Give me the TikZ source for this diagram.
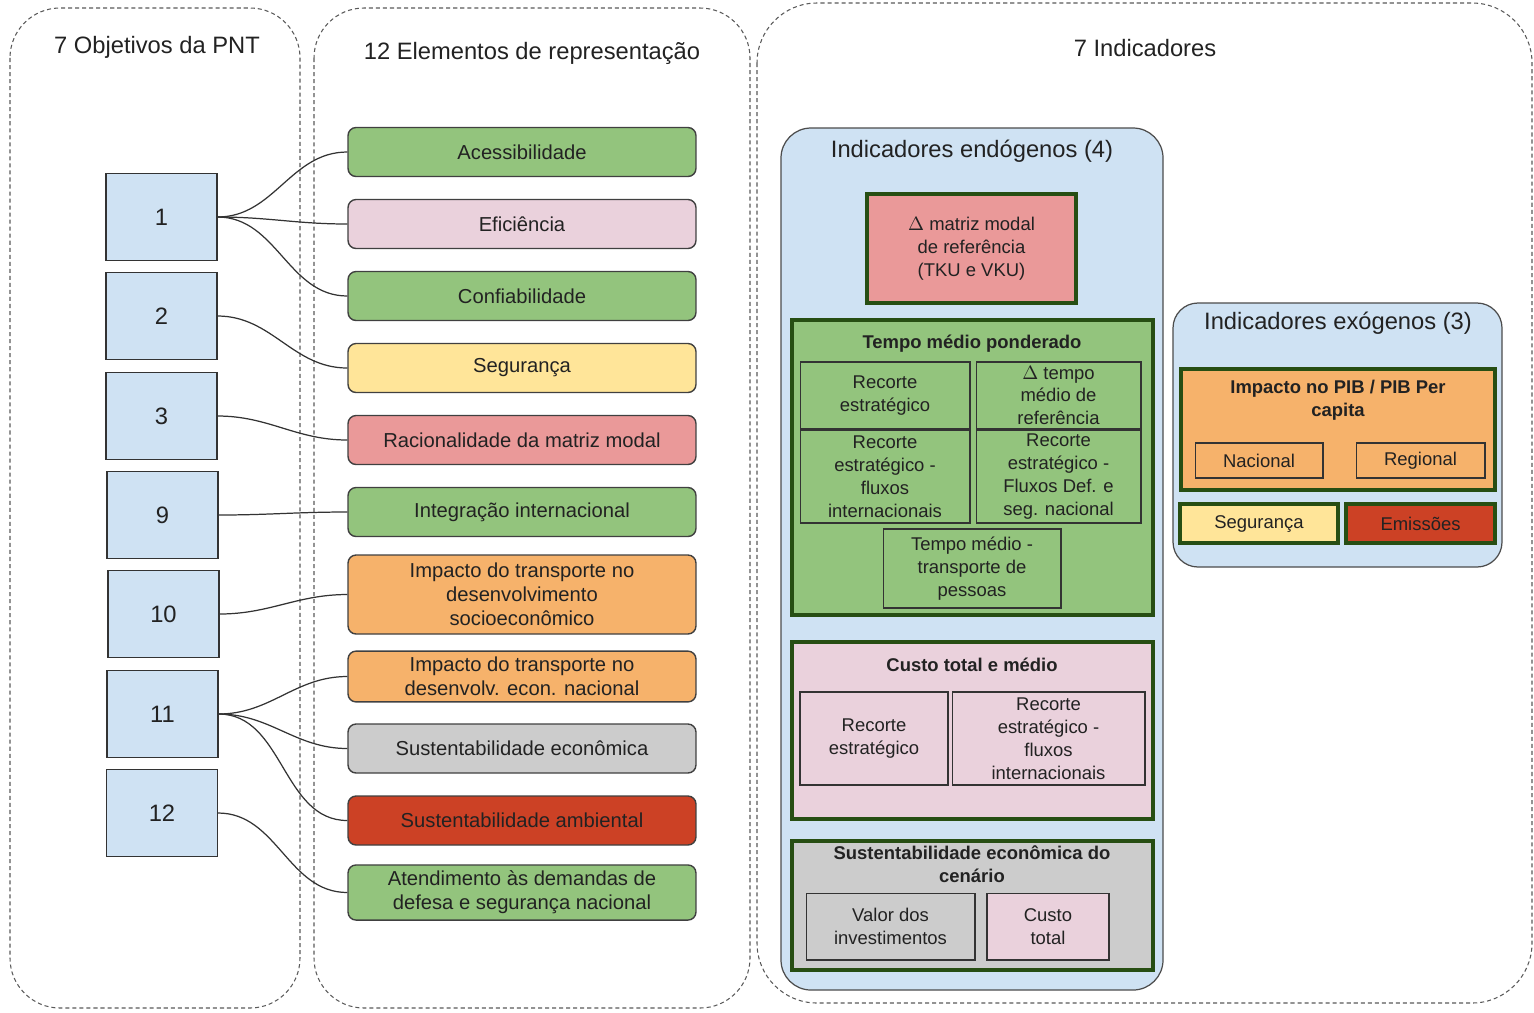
\documentclass[tikz,border=0pt]{standalone}
\usepackage{fontspec}
\setmainfont{Liberation Sans}
\usepackage{tikz, xcolor}

\definecolor{objblue}{HTML}{CFE2F3}
\definecolor{pgreen}{HTML}{93C47D}
\definecolor{ppink}{HTML}{EAD1DC}
\definecolor{pyellow}{HTML}{FFE599}
\definecolor{psalmon}{HTML}{EA9999}
\definecolor{porange}{HTML}{F6B26B}
\definecolor{pgray}{HTML}{CCCCCC}
\definecolor{pred}{HTML}{CC4125}
\definecolor{dgreen}{HTML}{274E13}
\definecolor{ink}{HTML}{222222}

\begin{document}
\begin{tikzpicture}
	[
		x=0.02cm, y=-0.02cm,
		panel/.style={draw=black!65, line width=0.6pt, dash pattern=on 2.3pt off 1.7pt},
		title/.style={text=ink, font=\fontsize{13.5}{16}\selectfont},
		obj/.style={draw=black!80, fill=objblue, line width=0.6pt, minimum width=2.22cm, minimum height=1.74cm, text=ink, font=\fontsize{13.5}{16}\selectfont},
		elem/.style={draw=black!75, line width=0.8pt, rounded corners=0.16cm, minimum width=6.96cm, minimum height=0.98cm, align=center, text=ink, font=\fontsize{11.5}{13.8}\selectfont},
		link/.style={draw=black!80, line width=0.7pt},
		grp/.style={draw=dgreen, line width=2.2pt},
		grptitle/.style={align=center, text=ink, font=\fontsize{10.5}{13}\selectfont\bfseries},
		cell/.style={draw=black!80, line width=0.6pt, align=center, text=ink, inner sep=1pt, font=\fontsize{10.5}{13}\selectfont},
		indpanel/.style={draw=black!70, fill=objblue, line width=0.7pt}
	]
	\useasboundingbox (0,0) rectangle (1534,1012);

	% Dashed outer panels.
	\draw[panel, rounded corners=1cm] (10,8) rectangle (300,1008);
	\draw[panel, rounded corners=1cm] (314,8) rectangle (750,1008);
	\draw[panel, rounded corners=1.2cm] (757,3) rectangle (1532,1003);

	\node[title] (t-obj) at (157,47) {7 Objetivos da PNT};
	\node[title] (t-elem) at (532,53) {12 Elementos de representação};
	\node[title] (t-ind) at (1145,48) {7 Indicadores};

	% Objectives.
	\node[obj] (o1) at (161.5,217) {1};
	\node[obj] (o2) at (161.5,316) {2};
	\node[obj] (o3) at (161.5,416) {3};
	\node[obj] (o9) at (162.5,515) {9};
	\node[obj] (o10) at (163.5,614) {10};
	\node[obj] (o11) at (162.5,714) {11};
	\node[obj] (o12) at (162,813) {12};

	% Elements.
	\node[elem, fill=pgreen] (acess) at (522,152) {Acessibilidade};
	\node[elem, fill=ppink] (efic) at (522,224) {Eficiência};
	\node[elem, fill=pgreen] (conf) at (522,296) {Confiabilidade};
	\node[elem, fill=pyellow] (seg) at (522,368) {Segurança};
	\node[elem, fill=psalmon] (rac) at (522,440) {Racionalidade da matriz modal};
	\node[elem, fill=pgreen] (integ) at (522,512) {Integração internacional};
	\node[elem, fill=porange, minimum height=1.58cm] (impsoc) at (522,594.5) {Impacto do transporte no\\desenvolvimento\\socioeconômico};
	\node[elem, fill=porange] (impnac) at (522,676.5) {Impacto do transporte no\\desenvolv. econ. nacional};
	\node[elem, fill=pgray] (susteco) at (522,748.5) {Sustentabilidade econômica};
	\node[elem, fill=pred] (sustamb) at (522,820.5) {Sustentabilidade ambiental};
	\node[elem, fill=pgreen] (atend) at (522,892.5) {Atendimento às demandas de\\defesa e segurança nacional};

	% Links.
	\draw[link] (o1.east) to[out=0, in=180] (acess.west);
	\draw[link] (o1.east) to[out=0, in=180] (efic.west);
	\draw[link] (o1.east) to[out=0, in=180] (conf.west);
	\draw[link] (o2.east) to[out=0, in=180] (seg.west);
	\draw[link] (o3.east) to[out=0, in=180] (rac.west);
	\draw[link] (o9.east) to[out=0, in=180] (integ.west);
	\draw[link] (o10.east) to[out=0, in=180] (impsoc.west);
	\draw[link] (o11.east) to[out=0, in=180] (impnac.west);
	\draw[link] (o11.east) to[out=0, in=180] (susteco.west);
	\draw[link] (o11.east) to[out=0, in=180] (sustamb.west);
	\draw[link] (o12.east) to[out=0, in=180] (atend.west);

	% Endogenous indicators.
	\filldraw[indpanel, rounded corners=0.6cm] (781,128) rectangle (1163,990);
	\node[title] (t-endo) at (972,151) {Indicadores endógenos (4)};

	\node[cell, grp, fill=psalmon, minimum width=4.18cm, minimum height=2.18cm] (matriz) at (971.5,248.5) {$\Delta$ matriz modal\\de referência\\(TKU e VKU)};

	\filldraw[grp, fill=pgreen] (792,320) rectangle (1153,615);
	\node[grptitle] (t-tempo) at (972,344) {Tempo médio ponderado};
	\node[cell, minimum width=3.4cm, minimum height=1.34cm] (tempo-a) at (885,395.5) {Recorte\\estratégico};
	\node[cell, minimum width=3.3cm, minimum height=1.34cm] (tempo-b) at (1058.5,395.5) {$\Delta$ tempo\\médio de\\referência};
	\node[cell, minimum width=3.4cm, minimum height=1.86cm] (tempo-c) at (885,476.5) {Recorte\\estratégico -\\fluxos\\internacionais};
	\node[cell, minimum width=3.3cm, minimum height=1.86cm] (tempo-d) at (1058.5,476.5) {Recorte\\estratégico -\\Fluxos Def. e\\seg. nacional};
	\node[cell, minimum width=3.56cm, minimum height=1.58cm] (tempo-e) at (972,568.5) {Tempo médio -\\transporte de\\pessoas};

	\filldraw[grp, fill=ppink] (792,642) rectangle (1153,819);
	\node[grptitle] (t-custo) at (972,665) {Custo total e médio};
	\node[cell, minimum width=2.96cm, minimum height=1.86cm] (custo-a) at (874,738.5) {Recorte\\estratégico};
	\node[cell, minimum width=3.86cm, minimum height=1.86cm] (custo-b) at (1048.5,738.5) {Recorte\\estratégico -\\fluxos\\internacionais};

	\filldraw[grp, fill=pgray] (792,841) rectangle (1153,970);
	\node[grptitle] (t-sust) at (972,864) {Sustentabilidade econômica do\\cenário};
	\node[cell, minimum width=3.38cm, minimum height=1.34cm] (sust-a) at (890.5,926.5) {Valor dos\\investimentos};
	\node[cell, fill=ppink, minimum width=2.44cm, minimum height=1.34cm] (sust-b) at (1048,926.5) {Custo\\total};

	% Exogenous indicators.
	\filldraw[indpanel, rounded corners=0.5cm] (1173,303) rectangle (1502,567);
	\node[title] (t-exo) at (1338,323) {Indicadores exógenos (3)};

	\filldraw[grp, fill=porange] (1181,369) rectangle (1495,490);
	\node[grptitle] (t-pib) at (1338,400) {Impacto no PIB / PIB Per\\capita};
	\node[cell, minimum width=2.56cm, minimum height=0.7cm] (pib-a) at (1259,460.5) {Nacional};
	\node[cell, minimum width=2.58cm, minimum height=0.7cm] (pib-b) at (1420.5,460.5) {Regional};

	\node[cell, grp, fill=pyellow, minimum width=3.16cm, minimum height=0.78cm] (exo-seg) at (1259,523.5) {Segurança};
	\node[cell, grp, fill=pred, minimum width=2.98cm, minimum height=0.78cm] (exo-emis) at (1420.5,523.5) {Emissões};
\end{tikzpicture}
\end{document}
